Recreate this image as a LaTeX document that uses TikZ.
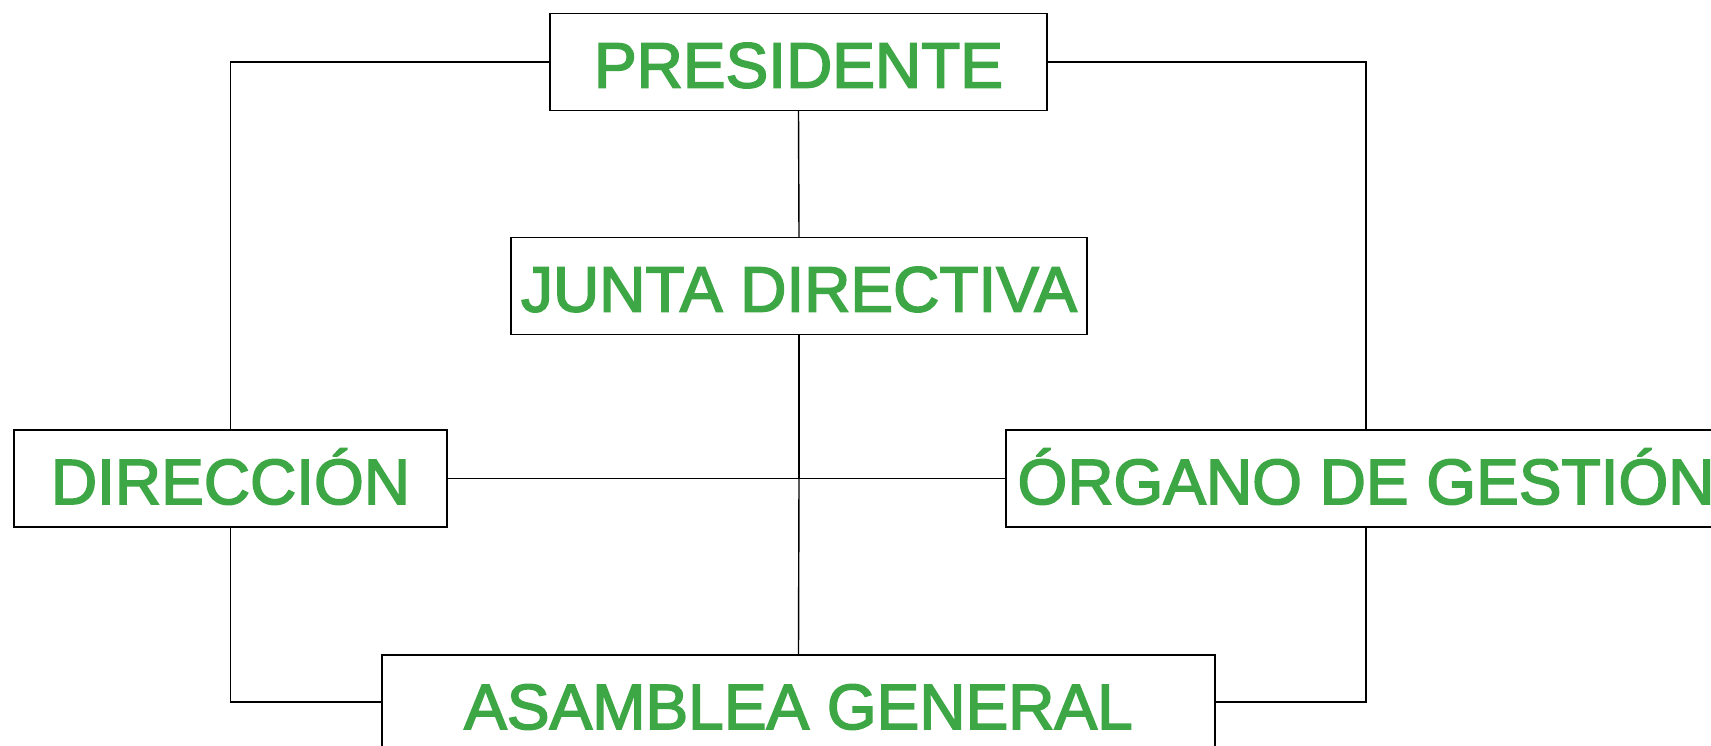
\documentclass[tikz,border=0pt]{standalone}
\usepackage{fontspec}
\setmainfont{Liberation Sans}
\definecolor{orggreen}{RGB}{62,167,69}
\newcommand{\heavytext}[1]{\special{pdf:literal direct 2 Tr 1.6 w}#1\special{pdf:literal direct 0 Tr}}
\begin{document}
\begin{tikzpicture}[x=1pt,y=-1pt,
  orgbox/.style={draw=black, line width=1.4pt, fill=white, inner sep=0pt,
    minimum height=97pt, text height=51pt, text depth=0pt,
    font=\fontsize{64pt}{64pt}\selectfont, text=orggreen},
  link/.style={draw=black, line width=1.4pt}]
\useasboundingbox (0,0) rectangle (1711,745);
\clip (0,0) rectangle (1711,745);
\fill[white] (0,0) rectangle (1711,745);
\coordinate (lt) at (230.5,62);
\coordinate (rt) at (1366,62);
\coordinate (lb) at (230.5,702);
\coordinate (rb) at (1366,702);
\coordinate (mid) at (799,478.5);
\node[orgbox, minimum width=497pt] (pres) at (798.5,62) {\heavytext{PRESIDENTE}};
\node[orgbox, minimum width=576pt] (junta) at (799,286) {\heavytext{JUNTA DIRECTIVA}};
\node[orgbox, minimum width=433pt] (dir) at (230.5,478.5) {\heavytext{DIRECCIÓN}};
\node[orgbox, minimum width=720pt] (org) at (1366,478.5) {\heavytext{ÓRGANO DE GESTIÓN}};
\node[orgbox, minimum width=833pt] (asam) at (798.5,703.5) {\heavytext{ASAMBLEA GENERAL}};
\draw[link] (pres.south) -- (junta.north);
\draw[link, line width=2.4pt] (junta.south) -- (mid);
\draw[link] (mid) -- (asam.north);
\draw[link] (dir.east) -- (org.west);
\draw[link] (pres.west) -- (lt) -- (dir.north);
\draw[link] (pres.east) -- (rt) -- (org.north);
\draw[link] (dir.south) -- (lb) -- (asam.west |- lb);
\draw[link] (org.south) -- (rb) -- (asam.east |- rb);
\end{tikzpicture}
\end{document}
